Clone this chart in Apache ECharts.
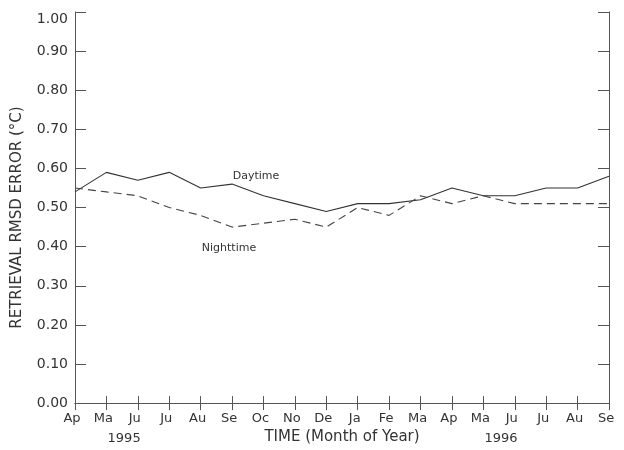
<!DOCTYPE html>
<html>
<head>
<meta charset="utf-8">
<script src="https://cdn.jsdelivr.net/npm/echarts@6/dist/echarts.min.js"></script>
<style>
html,body{margin:0;padding:0;background:#fff;}
#c{width:624px;height:450px;}
</style>
</head>
<body>
<div id="c"></div>
<script>
const months = ['Ap','Ma','Ju','Ju','Au','Se','Oc','No','De','Ja','Fe','Ma','Ap','Ma','Ju','Ju','Au','Se'];
const daytime = [0.54,0.59,0.57,0.59,0.55,0.56,0.53,0.51,0.49,0.51,0.51,0.52,0.55,0.53,0.53,0.55,0.55,0.58];
const nighttime = [0.55,0.54,0.53,0.50,0.48,0.45,0.46,0.47,0.45,0.50,0.48,0.53,0.51,0.53,0.51,0.51,0.51,0.51];
const yTicks = [0,0.1,0.2,0.3,0.4,0.5,0.6,0.7,0.8,0.9,1.0];
const years = [{label:'1995', from:1, to:2}, {label:'1996', from:13, to:14}];

const FONT = 'DejaVu Sans';
const TXT = '#333';
const AX = '#555';

const chart = echarts.init(document.getElementById('c'), null, {renderer:'canvas'});
const yStep = yTicks[1] - yTicks[0];
const opt = {
  backgroundColor:'#fff',
  animation:false,
  textStyle:{fontFamily:FONT},
  grid:{left:75,right:15,top:12,bottom:42,containLabel:false},
  xAxis:[{
    type:'category', data:months, boundaryGap:false, position:'bottom',
    name:'TIME (Month of Year)', nameLocation:'middle', nameGap:23,
    nameTextStyle:{fontFamily:FONT,fontSize:15,color:TXT},
    axisLine:{show:true,lineStyle:{color:AX,width:1}},
    axisTick:{show:true,inside:true,length:7,interval:0,lineStyle:{color:AX}},
    axisLabel:{show:true,interval:0,margin:9,fontFamily:FONT,fontSize:13,color:TXT,padding:[0,6,0,0]},
    splitLine:{show:false}
  },{
    type:'category', data:months, boundaryGap:false, position:'top',
    axisLine:{show:true,lineStyle:{color:AX,width:1}},
    axisTick:{show:true,inside:true,length:7,interval:0,lineStyle:{color:AX}},
    axisLabel:{show:false}, splitLine:{show:false}
  }],
  yAxis:[{
    type:'value', min:yTicks[0], max:yTicks[yTicks.length-1], interval:yStep, position:'left',
    name:'RETRIEVAL RMSD ERROR (°C)', nameLocation:'middle', nameGap:50, nameRotate:90,
    nameTextStyle:{fontFamily:FONT,fontSize:15,color:TXT,padding:[0,20,0,0]},
    axisLine:{show:true,lineStyle:{color:AX,width:1}},
    axisTick:{show:true,inside:true,length:11,lineStyle:{color:AX}},
    axisLabel:{show:true,margin:7,fontFamily:FONT,fontSize:14,color:TXT,
      formatter:v=> v===1 ? '{t|'+v.toFixed(2)+'}' : v.toFixed(2),
      rich:{t:{fontFamily:FONT,fontSize:14,color:TXT,padding:[14,0,0,0]}}},
    splitLine:{show:false}
  },{
    type:'value', min:yTicks[0], max:yTicks[yTicks.length-1], interval:yStep, position:'right',
    axisLine:{show:true,lineStyle:{color:AX,width:1}},
    axisTick:{show:true,inside:true,length:11,lineStyle:{color:AX}},
    axisLabel:{show:false}, splitLine:{show:false}
  }],
  series:[{
    name:'Daytime', type:'line', data:daytime, xAxisIndex:0, yAxisIndex:0,
    symbol:'none', lineStyle:{color:'#333',width:1.1,type:'solid'}
  },{
    name:'Nighttime', type:'line', data:nighttime, xAxisIndex:0, yAxisIndex:0,
    symbol:'none', lineStyle:{color:'#444',width:1.1,type:[8,5]}
  }]
};
chart.setOption(opt);

const gfx = [];
years.forEach(y=>{
  const x1 = chart.convertToPixel({xAxisIndex:0}, y.from);
  const x2 = chart.convertToPixel({xAxisIndex:0}, y.to);
  gfx.push({type:'text', x:(x1+x2)/2+2, y:439,
    style:{text:y.label, fontFamily:FONT, fontSize:13, fill:TXT, align:'center', verticalAlign:'middle'}});
});
gfx.push({type:'text', x:256, y:176, style:{text:'Daytime', fontFamily:FONT, fontSize:11, fill:TXT, align:'center', verticalAlign:'middle'}});
gfx.push({type:'text', x:229, y:248, style:{text:'Nighttime', fontFamily:FONT, fontSize:11, fill:TXT, align:'center', verticalAlign:'middle'}});
chart.setOption({graphic:gfx});
</script>
</body>
</html>
